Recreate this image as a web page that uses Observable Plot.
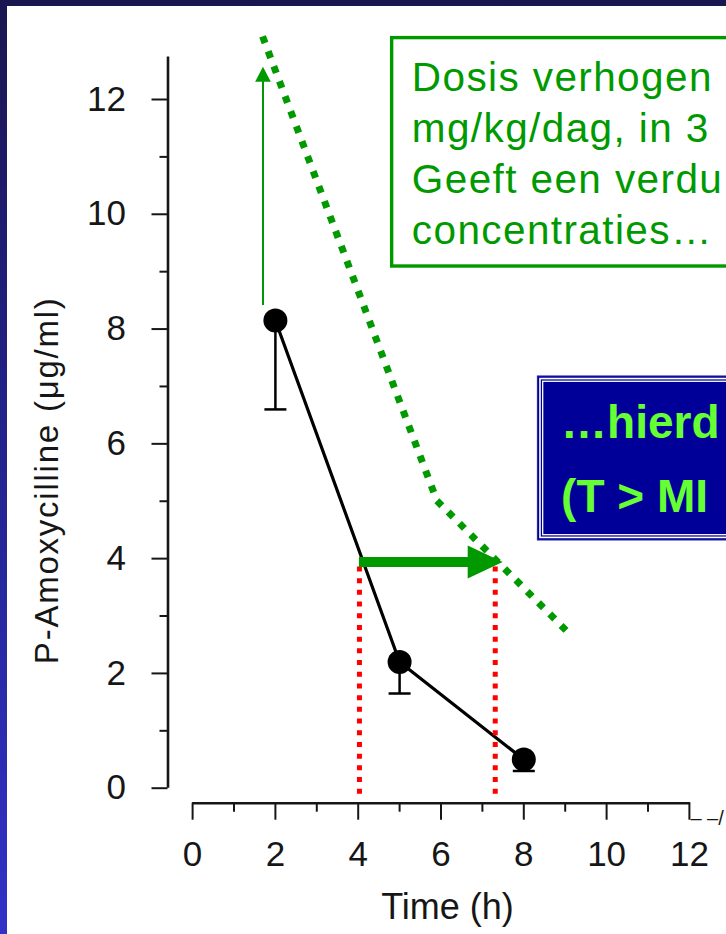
<!DOCTYPE html>
<html>
<head>
<meta charset="utf-8">
<script src="https://cdn.jsdelivr.net/npm/d3@7"></script>
<script src="https://cdn.jsdelivr.net/npm/@observablehq/plot@0.6"></script>
<style>
  html, body { margin: 0; padding: 0; overflow: hidden; }
  body { width: 726px; height: 934px; position: relative;
         background: linear-gradient(to bottom, #1a1650 0%, #22228a 45%, #3232c8 100%); }
  #chart { position: absolute; left: 7px; top: 6px; width: 719px; height: 928px; background: #fff; overflow: hidden; }
  #chart svg { display: block; }
  .dosetext text { letter-spacing: 1.4px; }
</style>
</head>
<body>
<div id="chart"></div>
<script>
const hours = [2, 5, 8];
const amoxMean = [8.15, 2.2, 0.5];
const amoxLow = [6.6, 1.65, 0.3];

// ---- hand-drawn projection for the doubled dose ----
const doubledHours = [1.69, 5.9, 9.02];
const doubledConc = [13.1, 5.01, 2.75];

// ---- axis ticks ----
const yTicksMajor = [0, 2, 4, 6, 8, 10, 12];
const yTicksMinor = [1, 3, 5, 7, 9, 11];
const xTicksMajor = [0, 2, 4, 6, 8, 10, 12];
const xTicksMinor = [1, 3, 5, 7, 9, 11];

// ---- MIC crossing (time above MIC) ----
const micCrossHours = [4.03, 7.31];
const longerArrow = {from: 4.03, to: 7.49, level: 3.94};
const doseArrow = {hour: 1.70, from: 8.41, to: 12.57};

// ---- texts (as far as visible on the cropped slide) ----
const xLabel = "Time (h)";
const yLabel = "P-Amoxycilline (μg/ml)";
const doseText = ["Dosis verhogen", "mg/kg/dag, in 3", "Geeft een verdu", "concentraties…"];
const mechText = ["…hierd", "(T > MI"];
const breakMark = "– –/";

// ---- annotation boxes (in data units) ----
const doseBox = {x1: 4.82, x2: 14, y1: 9.09, y2: 13.07, textX: 5.295, textY: 9.486};
const mechBox = {x1: 8.34, x2: 14, y1: 4.316, y2: 7.174, textX: 8.9, textY: 4.809};

const FONT = "'Liberation Sans', Arial, Helvetica, sans-serif";
const GREEN = "#009a00";
const INK = "#161616";

const rows = hours.map((h, i) => ({hour: h, mean: amoxMean[i], low: amoxLow[i]}));
const doubled = doubledHours.map((h, i) => ({hour: h, conc: doubledConc[i]}));

const headRight = (len, wid) => ({draw(ctx) { ctx.moveTo(0, 0); ctx.lineTo(-len, -wid / 2); ctx.lineTo(-len, wid / 2); ctx.closePath(); }});
const headUp = (len, wid) => ({draw(ctx) { ctx.moveTo(0, 0); ctx.lineTo(-wid / 2, len); ctx.lineTo(wid / 2, len); ctx.closePath(); }});
const capSymbol = {draw(ctx) { ctx.moveTo(-11, 0); ctx.lineTo(11, 0); }};

const box = {x1: "x1", x2: "x2", y1: "y1", y2: "y2"};
const AX = -24.6; // y-axis line sits left of x = 0
const AY = 15;    // x-axis line sits below y = 0

const plot = Plot.plot({
  width: 719,
  height: 928,
  marginLeft: 185.1,
  marginRight: 37.1,
  marginTop: 93,
  marginBottom: 146.3,
  x: {domain: [0, 12]},
  y: {domain: [0, 12]},
  style: {fontFamily: FONT, color: INK, background: "transparent"},
  marks: [
    // blue annotation box
    Plot.rect([mechBox], {...box, fill: "#000099", stroke: "#2020a8", strokeWidth: 1}),
    Plot.rect([mechBox], {...box, fill: "none", stroke: "white", strokeWidth: 1.6, inset: 2.6}),
    Plot.rect([mechBox], {...box, fill: "none", stroke: "white", strokeWidth: 1.3, inset: 5.3}),
    Plot.text([mechText.join("\n")], {x: mechBox.textX, y: mechBox.textY, textAnchor: "start", lineAnchor: "bottom",
      lineHeight: 1.617, fontSize: 46, fontWeight: "bold", fill: "#66ff33"}),
    // green annotation box
    Plot.rect([doseBox], {...box, fill: "none", stroke: GREEN, strokeWidth: 3.4}),
    Plot.text([doseText.join("\n")], {x: doseBox.textX, y: doseBox.textY, textAnchor: "start", lineAnchor: "bottom",
      lineHeight: 1.254, fontSize: 40.5, fill: GREEN, className: "dosetext"}),

    // axes
    Plot.ruleX([0], {y1: 0, y2: 12.74, dx: AX, stroke: INK, strokeWidth: 2.6}),
    Plot.axisY(yTicksMajor, {anchor: "left", tickSize: 16, tickPadding: 26, dx: AX, fontSize: 35, strokeWidth: 2,
      tickFormat: d => String(d), label: null}),
    Plot.axisY(yTicksMinor, {anchor: "left", tickSize: 8, tickFormat: () => "", dx: AX, strokeWidth: 2, label: null}),
    Plot.ruleY([0], {x1: 0, x2: 12.03, dy: AY, stroke: INK, strokeWidth: 2.6}),
    Plot.axisX(xTicksMajor, {anchor: "bottom", tickSize: 17, tickPadding: 21, dy: AY, fontSize: 35, strokeWidth: 2,
      tickFormat: d => String(d), label: null}),
    Plot.axisX(xTicksMinor, {anchor: "bottom", tickSize: 9, tickFormat: () => "", dy: AY, strokeWidth: 2, label: null}),
    Plot.text([breakMark], {x: 12, frameAnchor: "bottom", dx: 1, dy: 36.3, textAnchor: "start", lineAnchor: "bottom", fontSize: 20, fill: INK}),
    Plot.text([xLabel], {x: 6, frameAnchor: "bottom", dx: 6.5, dy: 130.6, textAnchor: "middle", lineAnchor: "bottom", fontSize: 36, fill: INK}),
    Plot.text([yLabel], {y: 5.35, frameAnchor: "left", dx: -134.8, rotate: -90, textAnchor: "middle", lineAnchor: "bottom",
      fontSize: 33, fill: INK, className: "ylab"}),

    // projected doubled-dose curve
    Plot.line(doubled, {x: "hour", y: "conc", stroke: GREEN, strokeWidth: 7, strokeDasharray: "7,9",
      strokeLinecap: "butt", strokeLinejoin: "miter"}),

    // measured data
    Plot.line(rows, {x: "hour", y: "mean", stroke: "#000", strokeWidth: 3.2}),
    Plot.ruleX(rows, {x: "hour", y1: "mean", y2: "low", stroke: "#000", strokeWidth: 2.5}),
    Plot.dot(rows, {x: "hour", y: "low", symbol: capSymbol, stroke: "#000", strokeWidth: 2.5, fill: "none"}),
    Plot.dot(rows, {x: "hour", y: "mean", r: 12, fill: "#000", stroke: "none"}),

    // time above MIC markers
    Plot.ruleX(micCrossHours, {y1: 3.855, y2: -0.2, stroke: "#ff0000", strokeWidth: 5, strokeDasharray: "5,6.7"}),
    Plot.ruleY([longerArrow], {y: "level", x1: "from", x2: d => d.to - 0.5, stroke: GREEN, strokeWidth: 10}),
    Plot.dot([longerArrow], {x: "to", y: "level", symbol: headRight(35, 33), fill: GREEN, stroke: "none"}),

    // dose increase arrow
    Plot.ruleX([doseArrow], {x: "hour", y1: "from", y2: d => d.to - 0.2, stroke: GREEN, strokeWidth: 2}),
    Plot.dot([doseArrow], {x: "hour", y: "to", symbol: headUp(15, 15.7), fill: GREEN, stroke: "none"})
  ]
});

document.getElementById("chart").appendChild(plot);
d3.select(plot).selectAll(".ylab text").attr("textLength", 366).attr("lengthAdjust", "spacing");
</script>
</body>
</html>
